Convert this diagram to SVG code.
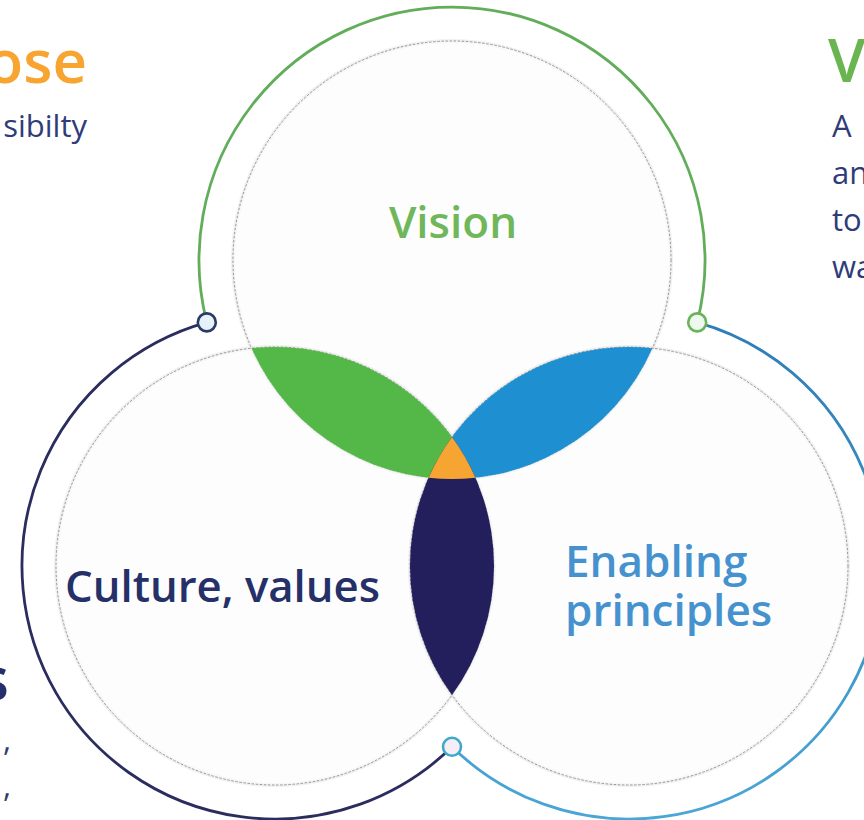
<svg xmlns="http://www.w3.org/2000/svg" width="864" height="820" viewBox="0 0 864 820">
  <defs>
    <style>
      .ring-guide { fill: #fcfcfc; stroke: #8c8c8c; stroke-width: 0.9; stroke-dasharray: 2.5 1.6; }
      .ring-halo { fill: none; stroke: #d4d4d4; stroke-width: 4; opacity: 0.35; }
      .arc { fill: none; stroke-width: 2.8; stroke-linecap: round; }
      .knot { stroke-width: 2.6; }
      .label { font-family: "Open Sans", "Noto Sans", "DejaVu Sans", sans-serif; font-weight: 600; font-size: 44px; }
      .heading { font-family: "Open Sans", "Noto Sans", "DejaVu Sans", sans-serif; font-weight: 600; font-size: 60px; }
      .body { font-family: "Open Sans", "Noto Sans", "DejaVu Sans", sans-serif; font-weight: 400; font-size: 31px; fill: #2f3c78; }
    </style>
    <linearGradient id="blueArc" x1="0" y1="0" x2="0" y2="1">
      <stop offset="0" stop-color="#2f7db6"/>
      <stop offset="1" stop-color="#4aa6d6"/>
    </linearGradient>
  </defs>

  <rect width="864" height="820" fill="#ffffff"/>

  <!-- side captions, partly beyond the canvas edges -->
  <g id="caption-purpose">
    <text class="heading" x="87" y="83" text-anchor="end" fill="#f8a431">ose</text>
    <text class="body" x="87" y="137" text-anchor="end">sibilty</text>
  </g>
  <g id="caption-vision">
    <text class="heading" x="828" y="82" fill="#6ab550">V</text>
    <text class="body" x="832" y="137">A</text>
    <text class="body" x="832" y="184">an</text>
    <text class="body" x="832" y="231">to</text>
    <text class="body" x="832" y="278">wa</text>
  </g>
  <g id="caption-culture">
    <text class="heading" x="9" y="700" text-anchor="end" fill="#262f6b">s</text>
    <text class="body" x="11" y="751" text-anchor="end">,</text>
    <text class="body" x="11" y="797" text-anchor="end">,</text>
  </g>

  <!-- outer coloured arcs joining the three knots -->
  <g id="connectors">
    <path class="arc" stroke="#62ad5a" d="M 206.8 322.4 A 253 253 0 1 1 697.2 322.4"/>
    <path class="arc" stroke="#2a2d5e" d="M 206.8 322.4 A 253 253 0 1 0 452 746.8"/>
    <path class="arc" stroke="url(#blueArc)" d="M 697.2 322.4 A 253 253 0 1 1 452 746.8"/>
  </g>

  <!-- three overlapping circles -->
  <g id="circle-vision">
    <circle class="ring-halo" cx="452" cy="260" r="219"/>
    <circle class="ring-guide" cx="452" cy="260" r="219" fill-opacity="0.6"/>
  </g>
  <g id="circle-culture">
    <circle class="ring-halo" cx="275" cy="566" r="219"/>
    <circle class="ring-guide" cx="275" cy="566" r="219" fill-opacity="0.6"/>
  </g>
  <g id="circle-enabling">
    <circle class="ring-halo" cx="629" cy="566" r="219"/>
    <circle class="ring-guide" cx="629" cy="566" r="219" fill-opacity="0.6"/>
  </g>

  <!-- pairwise overlaps and the common core -->
  <g id="overlaps">
    <path id="lens-vision-culture" fill="#54b848" d="M 251.6 348.3 A 219 219 0 0 0 475.4 477.7 A 219 219 0 0 0 251.6 348.3 Z"/>
    <path id="lens-vision-enabling" fill="#1e8fd0" d="M 652.4 348.3 A 219 219 0 0 1 428.6 477.7 A 219 219 0 0 1 652.4 348.3 Z"/>
    <path id="lens-culture-enabling" fill="#231f5c" d="M 452 437 A 219 219 0 0 1 452 695 A 219 219 0 0 1 452 437 Z"/>
    <path id="core" fill="#f7a532" d="M 452 437 A 219 219 0 0 1 475.4 477.7 A 219 219 0 0 1 428.6 477.7 A 219 219 0 0 1 452 437 Z"/>
  </g>

  <!-- knots where the arcs meet -->
  <g id="knot-left">
    <circle class="knot" cx="206.8" cy="322.4" r="9" fill="#e6f2f8" stroke="#2a3a66"/>
  </g>
  <g id="knot-right">
    <circle class="knot" cx="697.2" cy="322.4" r="9" fill="#eef8ee" stroke="#6ab35a"/>
  </g>
  <g id="knot-bottom">
    <circle class="knot" cx="452" cy="746.8" r="9" fill="#f6eef6" stroke="#3fa9c9"/>
  </g>

  <!-- circle labels -->
  <g id="label-vision">
    <text class="label" x="453" y="238" text-anchor="middle" font-size="46" fill="#6fb75a">Vision</text>
  </g>
  <g id="label-culture">
    <text class="label" x="65" y="602" fill="#253068" textLength="315" lengthAdjust="spacingAndGlyphs">Culture, values</text>
  </g>
  <g id="label-enabling">
    <text class="label" x="565" y="577" fill="#4592cf">Enabling</text>
    <text class="label" x="565" y="626" fill="#4592cf">principles</text>
  </g>
</svg>
